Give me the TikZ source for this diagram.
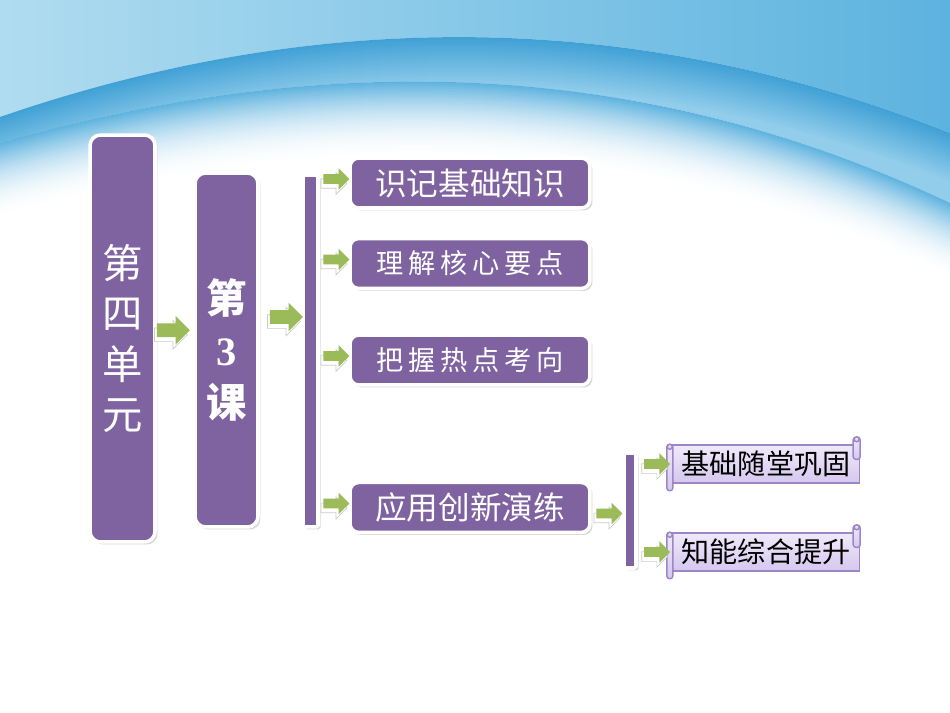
\documentclass[tikz,border=0pt]{standalone}
\usepackage{fontspec}
\setmainfont{Noto Sans CJK SC}
\newfontfamily\zahlfont{Liberation Serif}
\newfontfamily\weit[LetterSpace=18]{Noto Sans CJK SC}
\usepackage{tikz}
\usetikzlibrary{positioning,shapes.arrows,shadows,calc}

\definecolor{lila}{RGB}{127,99,161}
\definecolor{pfeilgruen}{RGB}{155,187,89}
\definecolor{himmelhell}{RGB}{176,220,240}
\definecolor{himmeldunkel}{RGB}{92,179,223}
\definecolor{bandblau}{RGB}{63,160,213}
\definecolor{bandhell}{RGB}{146,205,235}
\definecolor{himmelmitte}{RGB}{90,176,222}
\definecolor{rolleoben}{RGB}{240,234,250}
\definecolor{rolleunten}{RGB}{212,199,238}
\definecolor{rollenrand}{RGB}{156,134,198}

\tikzset{
  lilabox/.style={fill=lila, draw=white, line width=2pt, rounded corners=6pt, text=white, inner sep=0pt,
    drop shadow={opacity=0.3, shadow xshift=0.05cm, shadow yshift=-0.05cm}},
  kbox/.style={lilabox, minimum width=4.8cm, minimum height=1cm, rounded corners=5pt, font=\fontsize{18}{18}\selectfont},
  grosspfeil/.style={single arrow, fill=pfeilgruen, inner xsep=0pt, inner ysep=0.13cm, single arrow head extend=0.15cm,
    minimum height=0.66cm, copy shadow={shadow xshift=-0.05cm, shadow yshift=-0.09cm, fill=white, draw=black!20, line width=0.4pt}},
  kleinpfeil/.style={grosspfeil, inner ysep=0.09cm, single arrow head extend=0.12cm, minimum height=0.52cm},
  rollbox/.style={draw=rollenrand, line width=0.8pt, top color=rolleoben, bottom color=rolleunten, text=black,
    minimum width=3.74cm, minimum height=0.76cm, inner sep=0pt, font=\fontsize{16}{16}\selectfont},
  rollteil/.style={draw=rollenrand, line width=0.8pt, top color=rolleoben, bottom color=rolleunten}
}

\begin{document}
\begin{tikzpicture}[x=0.02cm, y=0.02cm]
\useasboundingbox (0,0) rectangle (950,-713);
\fill[white] (0,0) rectangle (950,-713);
% Himmel oben
\shade[left color=himmelhell, right color=himmeldunkel] (0,0) -- (950,0) -- (950,-133) .. controls (633,-8) and (317,-8) .. (0,-117) -- cycle;
\begin{scope}
  \clip (0,-117) .. controls (317,-8) and (633,-8) .. (950,-133) -- (950,-203) .. controls (633,-53) and (317,-53) .. (0,-143) -- cycle;
  \fill[bandhell] (0,0) rectangle (950,-300);
  \foreach \d in {0,2,...,50}{
    \pgfmathtruncatemacro\anteil{100-2*\d}
    \draw[line width=0.05cm, bandblau!\anteil!bandhell] (0,-117-\d) .. controls (317,-8-\d) and (633,-8-\d) .. (950,-133-\d);
  }
\end{scope}
% Verlauf nach weiss
\begin{scope}
  \clip (0,-143) .. controls (317,-53) and (633,-53) .. (950,-203) -- (950,-713) -- (0,-713) -- cycle;
  \foreach \d in {0,2,...,80}{
    \pgfmathtruncatemacro\anteil{100*(1-\d/82)^2.2}
    \draw[line width=0.05cm, himmelmitte!\anteil!white] (0,-143-\d) .. controls (317,-53-\d) and (633,-53-\d) .. (950,-203-\d);
  }
\end{scope}

\node[lilabox, minimum width=1.3cm, minimum height=8.14cm, align=center, font=\fontsize{23}{28.5}\selectfont] (einheit) at (122.5,-338.5) {第\\四\\单\\元};
\node[lilabox, minimum width=1.26cm, minimum height=7.08cm, align=center, font=\fontsize{23}{29.5}\selectfont\bfseries] (lektion) at (226.5,-350) {第\\{\zahlfont\bfseries 3}\\课};
\node[lilabox, rounded corners=1pt, minimum width=0.3cm, minimum height=7.04cm] (leiste) at (310.5,-351) {};

\node[kbox] (k1) at (470,-183) {识记基础知识};
\node[kbox, below=0.54cm of k1, font=\fontsize{15.5}{16}\weit] (k2) {理解核心要点};
\node[kbox, below=0.86cm of k2, font=\fontsize{15.5}{16}\weit] (k3) {把握热点考向};
\node[kbox, below=1.88cm of k3] (k4) {应用创新演练};

\node[lilabox, rounded corners=1pt, minimum width=0.24cm, minimum height=2.3cm] (leiste2) at (630,-510.5) {};
\node[rollbox] (s1) at (766,-464) {基础随堂巩固};
\node[rollbox] (s2) at (766,-552) {知能综合提升};
\foreach \kasten in {s1,s2}{
  % linke Rolle
  \draw[rollteil, rounded corners=1.5pt] ([xshift=-0.1cm]\kasten.north west) rectangle ([xshift=0.02cm, yshift=-0.14cm]\kasten.south west);
  \draw[rollteil] ([xshift=-0.04cm, yshift=-0.05cm]\kasten.north west) circle (0.05cm);
  % rechte Rolle
  \draw[rollteil, rounded corners=1.5pt] ([xshift=-0.14cm, yshift=0.14cm]\kasten.north east) rectangle ([yshift=-0.3cm]\kasten.north east);
  \draw[rollteil] ([xshift=-0.07cm, yshift=0.1cm]\kasten.north east) circle (0.05cm);
}

% Pfeile
\path (einheit.east) -- (lektion.west) node[midway, grosspfeil, xshift=-0.1cm, yshift=0.28cm] {};
\path (lektion.east) -- (leiste.west) node[midway, grosspfeil, xshift=0.05cm, yshift=0.67cm] {};
\foreach \k in {k1,k2,k3,k4}
  \path (leiste.east |- \k.west) -- (\k.west) node[midway, kleinpfeil, yshift=0.08cm] {};
\path (k4.east) -- (leiste2.west |- k4.east) node[midway, kleinpfeil, yshift=-0.12cm] {};
\foreach \kasten in {s1,s2}
  \path (leiste2.east |- \kasten.west) -- (\kasten.west) node[midway, kleinpfeil] {};
\end{tikzpicture}
\end{document}
